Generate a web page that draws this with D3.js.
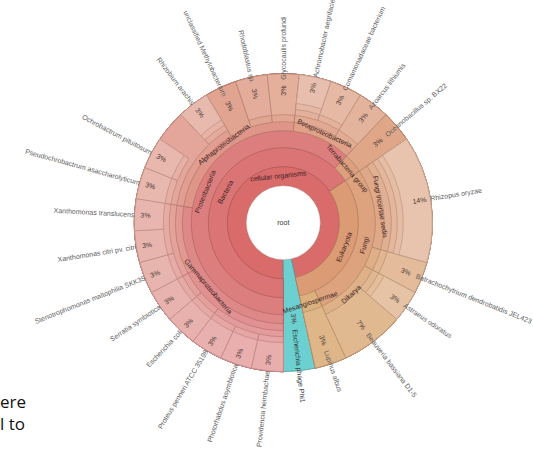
<!DOCTYPE html>
<html>
<head>
<meta charset="utf-8">
<script src="https://cdn.jsdelivr.net/npm/d3@7"></script>
<style>
  html, body { margin: 0; padding: 0; background: #fff; }
  svg { display: block; }
</style>
</head>
<body>
<svg id="chart" width="533" height="452"></svg>
<script>
// ---- data (clockwise from 6 o'clock) ----
const leafNames = [
  "Providencia heimbachae", "Photorhabdus asymbiotica", "Proteus penneri ATCC 35198",
  "Escherichia coli", "Serratia symbiotica", "Stenotrophomonas maltophilia SKK35",
  "Xanthomonas citri pv. citri", "Xanthomonas translucens",
  "Pseudochrobactrum asaccharolyticum", "Ochrobactrum pituitosum", "",
  "Rhizobium arachis", "unclassified Methylobacterium", "Rhodoblastus sp.", "Glycocaulis profundi",
  "Achromobacter aegrifaciens", "Comamonadaceae bacterium", "Azoarcus lithiumis",
  "Oceanobacillus sp. BX22",
  "Rhizopus oryzae", "Batrachochytrium dendrobatidis JEL423", "Astraeus odoratus",
  "Beauveria bassiana D1-5", "Lupinus albus",
  "Escherichia phage Phi1"
];
const leafCounts = [1,1,1,1,1,1,1,1, 1,1,1,1,1,1,1, 1,1,1, 1, 4,1,1,2,1, 1];
const leafLineages = [
  "cellular organisms;Bacteria;Proteobacteria;Gammaproteobacteria;Enterobacterales;Morganellaceae;Providencia",
  "cellular organisms;Bacteria;Proteobacteria;Gammaproteobacteria;Enterobacterales;Morganellaceae;Photorhabdus",
  "cellular organisms;Bacteria;Proteobacteria;Gammaproteobacteria;Enterobacterales;Morganellaceae;Proteus",
  "cellular organisms;Bacteria;Proteobacteria;Gammaproteobacteria;Enterobacterales;Enterobacteriaceae;Escherichia",
  "cellular organisms;Bacteria;Proteobacteria;Gammaproteobacteria;Enterobacterales;Yersiniaceae;Serratia",
  "cellular organisms;Bacteria;Proteobacteria;Gammaproteobacteria;Xanthomonadales;Xanthomonadaceae;Stenotrophomonas",
  "cellular organisms;Bacteria;Proteobacteria;Gammaproteobacteria;Xanthomonadales;Xanthomonadaceae;Xanthomonas",
  "cellular organisms;Bacteria;Proteobacteria;Gammaproteobacteria;Xanthomonadales;Xanthomonadaceae;Xanthomonas",
  "cellular organisms;Bacteria;Proteobacteria;Alphaproteobacteria;Hyphomicrobiales;Brucellaceae;Pseudochrobactrum",
  "cellular organisms;Bacteria;Proteobacteria;Alphaproteobacteria;Hyphomicrobiales;Brucellaceae;Ochrobactrum",
  "cellular organisms;Bacteria;Proteobacteria;Alphaproteobacteria;Hyphomicrobiales;Brucellaceae",
  "cellular organisms;Bacteria;Proteobacteria;Alphaproteobacteria;Hyphomicrobiales;Rhizobiaceae;Rhizobium",
  "cellular organisms;Bacteria;Proteobacteria;Alphaproteobacteria",
  "cellular organisms;Bacteria;Proteobacteria;Alphaproteobacteria;Rhodoblastaceae",
  "cellular organisms;Bacteria;Proteobacteria;Alphaproteobacteria;Maricaulales",
  "cellular organisms;Bacteria;Proteobacteria;Betaproteobacteria;Burkholderiales;Alcaligenaceae;Achromobacter",
  "cellular organisms;Bacteria;Proteobacteria;Betaproteobacteria;Burkholderiales;Comamonadaceae",
  "cellular organisms;Bacteria;Proteobacteria;Betaproteobacteria;Rhodocyclales",
  "cellular organisms;Bacteria;Terrabacteria group",
  "cellular organisms;Eukaryota;Fungi;Fungi incertae sedis;Mucoromycota;Mucorales;Rhizopus",
  "cellular organisms;Eukaryota;Fungi;Chytridiomycota;Rhizophydiales",
  "cellular organisms;Eukaryota;Fungi;Dikarya;Basidiomycota;Boletales",
  "cellular organisms;Eukaryota;Fungi;Dikarya",
  "cellular organisms;Eukaryota;Mesangiospermae",
  ""
];
const footnoteLines = ["ere", "l to"];

// ---- layout ----
const W = 533, H = 452;
const cx = 283.3, cy = 222.7;
const ringInner = [0, 37, 56, 75, 92, 101, 108, 114, 120]; // inner radius by depth
const outerR = 149;
const innerLabelR = [0, 47, 65.5, 84, 98.5];
const FONT = "'Liberation Sans', Arial, Helvetica, sans-serif";

// build tree from lineages
const rootData = { name: "root", children: [] };
leafNames.forEach((n, i) => {
  let node = rootData;
  const path = leafLineages[i] ? leafLineages[i].split(";") : [];
  path.forEach(p => {
    let c = node.children.find(k => k.name === p && !k.leaf);
    if (!c) { c = { name: p, children: [] }; node.children.push(c); }
    node = c;
  });
  node.children.push({ name: n, count: leafCounts[i], leaf: true, hidden: n === "" });
});

const root = d3.hierarchy(rootData, d => d.children).sum(d => d.leaf ? d.count : 0);
d3.partition().size([2 * Math.PI, 1])(root);
const total = root.value;

const co = root.children.find(c => c.data.name === "cellular organisms");
const hueScale = d3.scaleLinear().domain([co.x0, co.x1]).range([0, 33]);
function inCO(n) { return n.ancestors().includes(co); }
function lightness(d) { return 0.612 + 0.023 * d; }
function fillOf(n) {
  if (!inCO(n)) return d3.hsl(180, 0.52, 0.62);
  return d3.hsl(hueScale(n.x0), 0.6 - 0.005 * n.depth, lightness(n.depth));
}
function strokeOf(n) {
  const c = fillOf(n);
  return d3.hsl(c.h, c.s * 0.55, c.l - 0.16);
}

const svg = d3.select("#chart");
svg.append("rect").attr("width", W).attr("height", H).attr("fill", "#fff");
const g = svg.append("g").attr("transform", `translate(${cx},${cy})`);

const angOff = Math.PI; // start at 6 o'clock
const arc = d3.arc()
  .startAngle(d => d.x0 + angOff)
  .endAngle(d => d.x1 + angOff)
  .innerRadius(d => ringInner[d.depth])
  .outerRadius(outerR);

const nodes = root.descendants().filter(d => d.depth > 0 && !d.data.hidden)
  .sort((a, b) => a.depth - b.depth);

g.selectAll("path.wedge").data(nodes).join("path")
  .attr("class", "wedge")
  .attr("d", arc)
  .attr("fill", d => fillOf(d))
  .attr("stroke", d => strokeOf(d))
  .attr("stroke-width", 0.75);

// root hole
g.append("circle").attr("r", ringInner[1]).attr("fill", "#fff")
  .attr("stroke", "#d9a0a0").attr("stroke-width", 0.5);
g.append("text").text("root").attr("text-anchor", "middle").attr("dy", "0.35em")
  .attr("font-family", FONT).attr("font-size", 7).attr("fill", "#333");

// helpers
function screenDeg(a) { return (a + angOff) * 180 / Math.PI - 90; }
function norm(deg) { return ((deg % 360) + 360) % 360; }
function pos(deg, r) { const t = deg * Math.PI / 180; return [r * Math.cos(t), r * Math.sin(t)]; }

// inner node labels (tangential)
const innerNodes = nodes.filter(d => d.children && !d.data.leaf &&
  (d.depth <= 3 || (d.depth === 4 && d.value >= 3)));
g.selectAll("text.inner").data(innerNodes).join("text")
  .attr("class", "inner")
  .each(function (d) {
    const th = norm(screenDeg((d.x0 + d.x1) / 2));
    const [x, y] = pos(th, innerLabelR[d.depth]);
    const rot = (th > 0 && th < 180) ? th - 90 : th + 90;
    d3.select(this).attr("transform", `translate(${x},${y}) rotate(${rot})`);
  })
  .attr("text-anchor", "middle").attr("dy", "0.35em")
  .attr("font-family", FONT).attr("font-size", 7).attr("fill", "#3a2424")
  .text(d => d.data.name);

// leaf labels (radial)
const leaves = root.leaves().filter(d => !d.data.hidden);
leaves.forEach(d => {
  const th = norm(screenDeg((d.x0 + d.x1) / 2));
  const flip = th > 90 && th < 270;
  const rot = flip ? th - 180 : th;
  const rp = (ringInner[d.depth] + outerR) / 2 + 3.5;
  const rn = rp + 11;
  const [px, py] = pos(th, rp);
  g.append("text")
    .attr("transform", `translate(${px},${py}) rotate(${rot})`)
    .attr("text-anchor", "middle").attr("dy", "0.35em")
    .attr("font-family", FONT).attr("font-size", 7).attr("fill", "#4a3a36")
    .text(Math.round(d.value / total * 100) + "%");
  const [nx, ny] = pos(th, rn);
  g.append("text")
    .attr("transform", `translate(${nx},${ny}) rotate(${rot})`)
    .attr("text-anchor", flip ? "end" : "start").attr("dy", "0.35em")
    .attr("font-family", FONT).attr("font-size", 7)
    .attr("fill", inCO(d) ? "#5e5e5e" : "#2f3a3a")
    .text(d.data.name);
});

// cropped footnote text at bottom-left
svg.selectAll("text.foot").data(footnoteLines).join("text")
  .attr("class", "foot")
  .attr("x", 0).attr("y", (d, i) => 408 + i * 22)
  .attr("font-family", "'Open Sans', 'Noto Sans', sans-serif")
  .attr("font-size", 17).attr("fill", "#111")
  .text(d => d);
</script>
</body>
</html>
